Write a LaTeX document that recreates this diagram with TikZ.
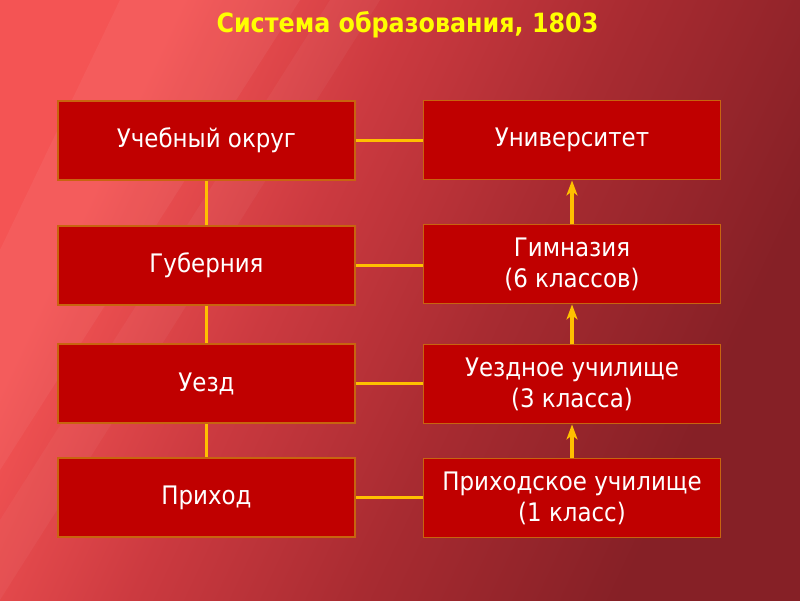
\documentclass[tikz,border=0pt]{standalone}
\usepackage{fontspec}
\setmainfont{DejaVu Sans Condensed}
\usetikzlibrary{arrows.meta}
\definecolor{boxred}{HTML}{C00000}
\definecolor{boxedge}{HTML}{C8640F}
\definecolor{linkc}{HTML}{FFC000}
\definecolor{titlec}{HTML}{FFFF00}
\definecolor{bgA}{HTML}{F45454}
\definecolor{bgB}{HTML}{CC3A40}
\definecolor{bgC}{HTML}{A82B31}
\definecolor{bgD}{HTML}{862026}
\pgfdeclarehorizontalshading{bgshade}{100bp}{color(0bp)=(bgA); color(28bp)=(bgA); color(42bp)=(bgB); color(56bp)=(bgC); color(72bp)=(bgD); color(100bp)=(bgD)}
\begin{document}
\begin{tikzpicture}[x=1pt,y=-1pt,
  box/.style={draw=boxedge, line width=1.8pt, fill=boxred, text=white,
    minimum width=297pt, minimum height=79pt, inner sep=0pt, align=center,
    font=\fontsize{25.5}{31}\selectfont},
  link/.style={draw=linkc, line width=3.5pt},
  up/.style={link, -{Stealth[length=15pt,width=11pt,inset=4pt]}}]
\useasboundingbox (0,0) rectangle (800,600);
\shade[shading=bgshade, shading angle=-25] (0,0) rectangle (800,600);
\fill[white, opacity=0.05] (120,0) -- (300,0) -- (0,470) -- (0,250) -- cycle;
\fill[white, opacity=0.04] (330,0) -- (380,0) -- (0,600) -- (0,520) -- cycle;
\node[font=\bfseries\fontsize{26.5}{30}\selectfont, text=titlec, anchor=base] (title) at (407.5,32) {Система образования, 1803};
\node[box] (okrug) at (206.5,140.5) {Учебный округ};
\node[box] (guber) at (206.5,265.5) {Губерния};
\node[box] (uezd) at (206.5,383.5) {Уезд};
\node[box] (prihod) at (206.5,497.5) {Приход};
\node[box] (univ) at (572,140) {Университет};
\node[box] (gimn) at (572,264) {Гимназия\\(6 классов)};
\node[box] (uuch) at (572,384) {Уездное училище\\(3 класса)};
\node[box] (puch) at (572,498) {Приходское училище\\(1 класс)};
\draw[link] (okrug.east) -- (okrug.east -| univ.west);
\draw[link] (guber.east) -- (guber.east -| gimn.west);
\draw[link] (uezd.east) -- (uezd.east -| uuch.west);
\draw[link] (prihod.east) -- (prihod.east -| puch.west);
\draw[link] (okrug.south) -- (guber.north);
\draw[link] (guber.south) -- (uezd.north);
\draw[link] (uezd.south) -- (prihod.north);
\draw[up] (gimn.north) -- (univ.south);
\draw[up] (uuch.north) -- (gimn.south);
\draw[up] (puch.north) -- (uuch.south);
\end{tikzpicture}
\end{document}
